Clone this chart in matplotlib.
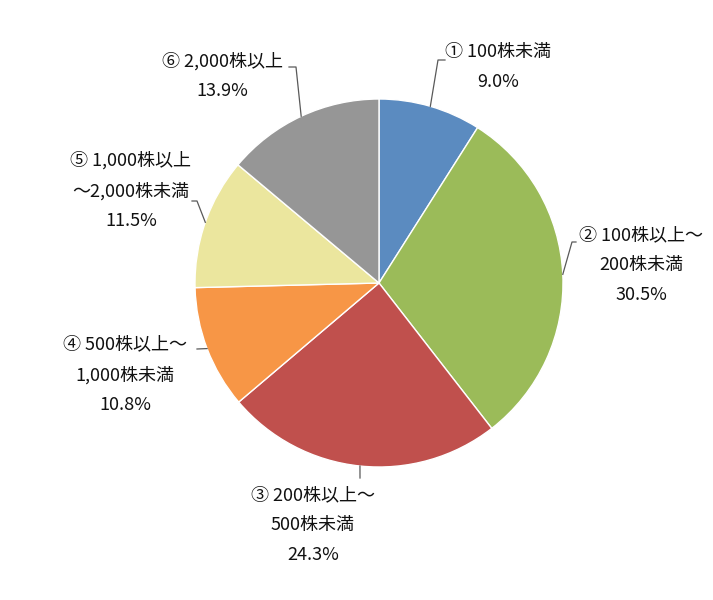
import numpy as np
import matplotlib.pyplot as plt

plt.rcParams['font.family'] = ['Noto Sans CJK JP', 'DejaVu Sans']

labels = ["① 100株未満", "② 100株以上～\n200株未満", "③ 200株以上～\n500株未満",
          "④ 500株以上～\n1,000株未満", "⑤ 1,000株以上\n～2,000株未満", "⑥ 2,000株以上"]
shares = [9.0, 30.5, 24.3, 10.8, 11.5, 13.9]
colors = ["#5B8BC0", "#9BBB59", "#C0504D", "#F79646", "#EBE69E", "#969696"]

W, H = 713, 600
cx, cy, r = 379, H - 283, 184

# label block centres and leader elbows (pixel layout, y from top)
text_pos = [(498, 67), (641, 265), (313, 525), (125, 375), (131, 191), (222, 76)]
elbow = [(438, 60, 445), (572, 242, 576), (360, 478, 360), (197, 349, 197),
         (197, 201, 192), (296, 67, 289)]

fig = plt.figure(figsize=(W / 100, H / 100), dpi=100)
ax = fig.add_axes([0, 0, 1, 1])
wedges, _ = ax.pie(shares, colors=colors, startangle=90, counterclock=False,
                   center=(cx, cy), radius=r,
                   wedgeprops=dict(edgecolor="white", linewidth=1))
ax.set_xlim(0, W)
ax.set_ylim(0, H)
ax.set_aspect("auto")
ax.axis("off")

for w, lab, v, (tx, ty), (ex, ey, hx) in zip(wedges, labels, shares, text_pos, elbow):
    ang = np.deg2rad((w.theta1 + w.theta2) / 2)
    ax0 = cx + r * np.cos(ang)
    ay0 = cy + r * np.sin(ang)
    ax.plot([ax0, ex, hx], [ay0, H - ey, H - ey], color="#595959", lw=0.9)
    ax.text(tx, H - ty, "%s\n%.1f%%" % (lab, v), ha="center", va="center",
            fontsize=13, color="#111111", linespacing=1.85)

fig.savefig("out.png", dpi=100, facecolor="white")
